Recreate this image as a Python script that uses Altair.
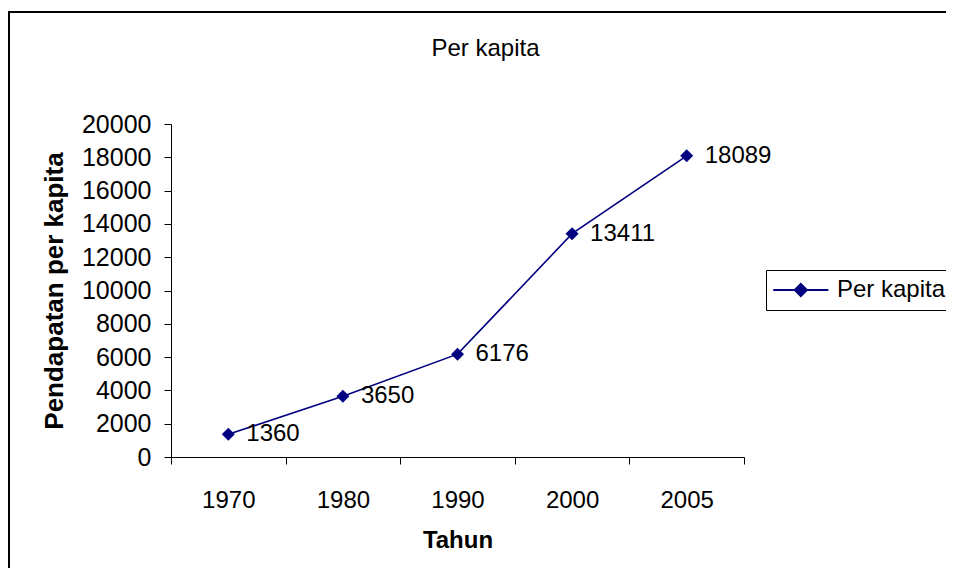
import altair as alt
import pandas as pd

years = ["1970", "1980", "1990", "2000", "2005"]
values = [1360, 3650, 6176, 13411, 18089]
series = "Per kapita"
y_ticks = list(range(0, 20001, 2000))

df = pd.DataFrame({"Tahun": years, "value": values, "series": [series] * len(years)})
frame_df = pd.DataFrame({"k": [0]})

FONT = "Liberation Sans"
W, H = 573, 333

x_enc = alt.X(
    "Tahun:N",
    sort=years,
    scale=alt.Scale(paddingInner=0, paddingOuter=0),
    axis=alt.Axis(
        title="Tahun",
        titleFontSize=24,
        titleFontWeight="bold",
        titlePadding=16,
        labelAngle=0,
        labelFontSize=24,
        labelPadding=24,
        tickSize=7,
        tickBand="extent",
        domainColor="black",
        tickColor="black",
        labelColor="black",
        titleColor="black",
        grid=False,
    ),
)
y_enc = alt.Y(
    "value:Q",
    scale=alt.Scale(domain=[0, 20000], nice=False),
    axis=alt.Axis(
        title="Pendapatan per kapita",
        titleFontSize=26,
        titleFontWeight="bold",
        titlePadding=14,
        values=y_ticks,
        tickCount=11,
        format="d",
        labelOverlap=False,
        labelFontSize=25,
        labelPadding=13,
        tickSize=7,
        domainColor="black",
        tickColor="black",
        labelColor="black",
        titleColor="black",
        grid=False,
    ),
)
color_enc = alt.Color(
    "series:N",
    scale=alt.Scale(range=["#000080"]),
    legend=alt.Legend(
        title=None,
        orient="none",
        legendX=595,
        legendY=146,
        strokeColor="black",
        fillColor="white",
        padding=8,
        symbolType="M-2.13,0L7.07,0M1.47,0L2.47,-1L3.47,0L2.47,1Z",
        symbolSize=144,
        symbolStrokeWidth=2,
        symbolFillColor="#000080",
        symbolStrokeColor="#000080",
        labelFontSize=24,
        labelOffset=39,
        labelColor="black",
    ),
)

base = alt.Chart(df).encode(x=x_enc, y=y_enc, color=color_enc)
line = base.mark_line(strokeWidth=1.6)
pts = base.mark_point(shape="diamond", filled=True, size=170, opacity=1)
labels = alt.Chart(df).mark_text(
    align="left", baseline="middle", dx=18, fontSize=24, color="black", font=FONT
).encode(x=x_enc, y=y_enc, text="value:Q")

frame_v = alt.Chart(frame_df).mark_rule(color="black", strokeWidth=2).encode(
    x=alt.value(-162), y=alt.value(-112), y2=alt.value(H + 300)
)
frame_h = alt.Chart(frame_df).mark_rule(color="black", strokeWidth=2).encode(
    y=alt.value(-112), x=alt.value(-163), x2=alt.value(W + 400)
)

chart = alt.layer(frame_v, frame_h, line, pts, labels).properties(
    width=W,
    height=H,
    autosize="none",
    padding={"left": 163, "top": 116, "right": 202, "bottom": 111},
    title=alt.TitleParams(
        "Per kapita",
        fontSize=24,
        fontWeight="normal",
        font=FONT,
        color="black",
        anchor="middle",
        frame="group",
        baseline="alphabetic",
        offset=-69,
        dx=28,
    ),
).configure(font=FONT).configure_view(stroke=None)

chart.save("out.html", embed_options={"renderer": "svg", "actions": False})
